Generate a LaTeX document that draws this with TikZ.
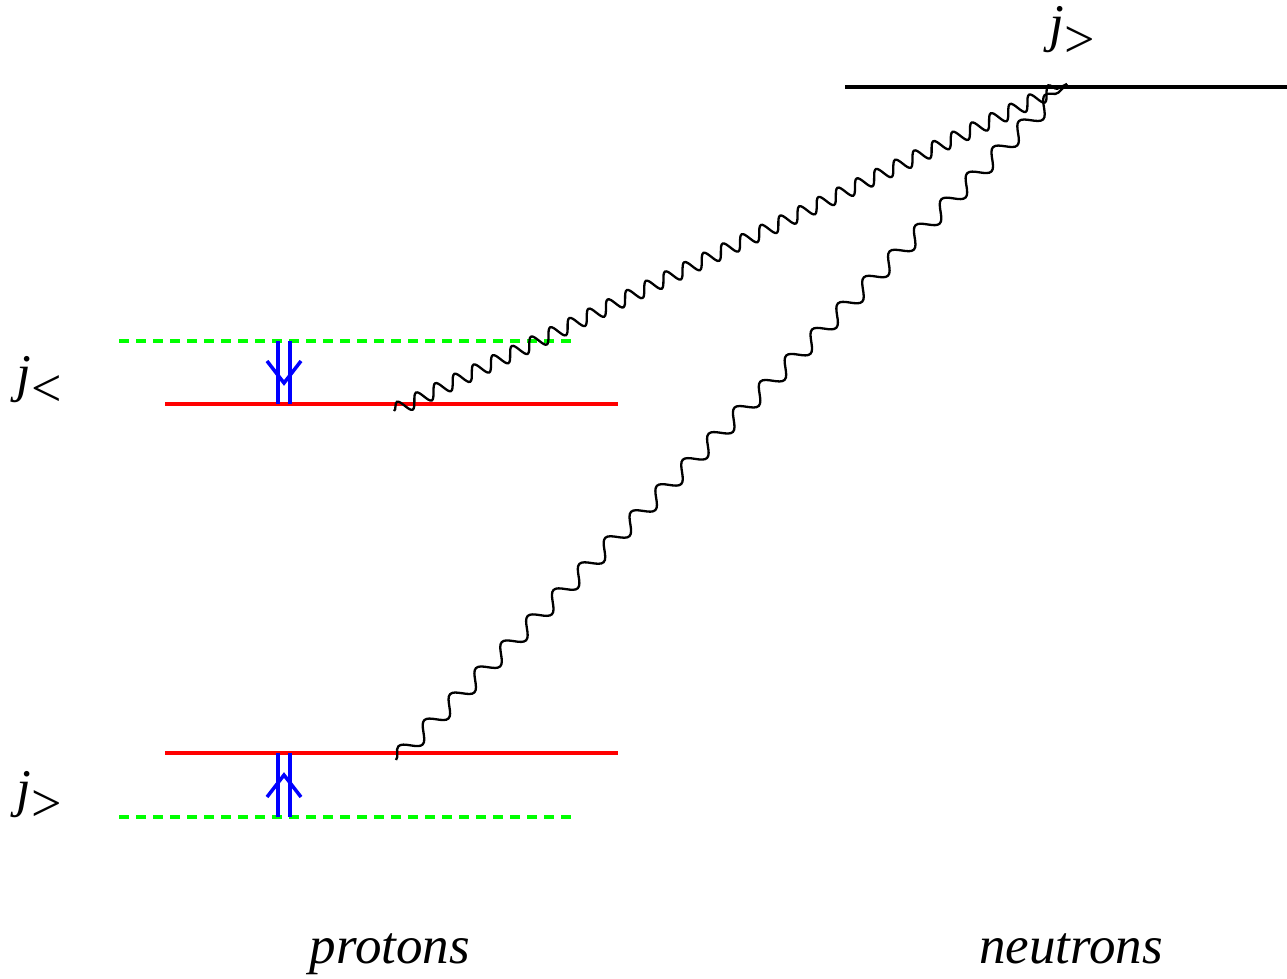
\documentclass[tikz,border=0pt]{standalone}
\usepackage{fontspec}
\setmainfont{Liberation Serif}
\usetikzlibrary{decorations.pathmorphing}
\tikzset{
  level/.style={line width=4pt},
  redlevel/.style={level, color=red},
  greenlevel/.style={level, color=green, dash pattern=on 10pt off 7pt},
  blacklevel/.style={level, color=black},
  bluebar/.style={line width=3.5pt, color=blue},
  wave/.style={line width=2.3pt, decorate},
  lbl/.style={inner sep=0pt, anchor=base, font=\fontsize{53}{60}\selectfont\itshape}
}
\newcommand{\jsub}[1]{\textit{j}\raisebox{-0.3em}{\fontsize{54}{60}\selectfont\upshape #1}}
\begin{document}
\begin{tikzpicture}[x=1pt,y=-1pt]
\useasboundingbox (0,0) rectangle (1287,979);
% levels
\coordinate (gu1) at (119,341); \coordinate (gu2) at (572,341);
\coordinate (ru1) at (165,404); \coordinate (ru2) at (618,404);
\coordinate (rl1) at (165,753); \coordinate (rl2) at (618,753);
\coordinate (gl1) at (119,817); \coordinate (gl2) at (572,817);
\coordinate (n1) at (845,87); \coordinate (n2) at (1287,87);
\draw[greenlevel] (gu1) -- (gu2);
\draw[redlevel] (ru1) -- (ru2);
\draw[redlevel] (rl1) -- (rl2);
\draw[greenlevel] (gl1) -- (gl2);
\draw[blacklevel] (n1) -- (n2);
% blue double arrows
\draw[bluebar] (278,341) -- (278,404);
\draw[bluebar] (290,341) -- (290,404);
\draw[bluebar] (267,361) -- (284,383) -- (301,361);
\draw[bluebar] (278,753) -- (278,817);
\draw[bluebar] (290,753) -- (290,817);
\draw[bluebar] (267,797) -- (284,775) -- (301,797);
% wavy lines
\coordinate (wa) at (394,411);
\coordinate (wb) at (396,760);
\coordinate (wt) at (1067,84);
\draw[wave, decoration={snake, segment length=21.3pt, amplitude=7pt}] (wa) -- (wt);
\draw[wave, decoration={snake, segment length=36.7pt, amplitude=8pt}] (wb) -- (wt);
% labels
\node[lbl] (ju) at (39,391) {\jsub{<}};
\node[lbl] (jl) at (39,806) {\jsub{>}};
\node[lbl] (jt) at (1072,42) {\jsub{>}};
\node[lbl] (pr) at (390,963) {protons};
\node[lbl] (ne) at (1071,963) {neutrons};
\end{tikzpicture}
\end{document}
